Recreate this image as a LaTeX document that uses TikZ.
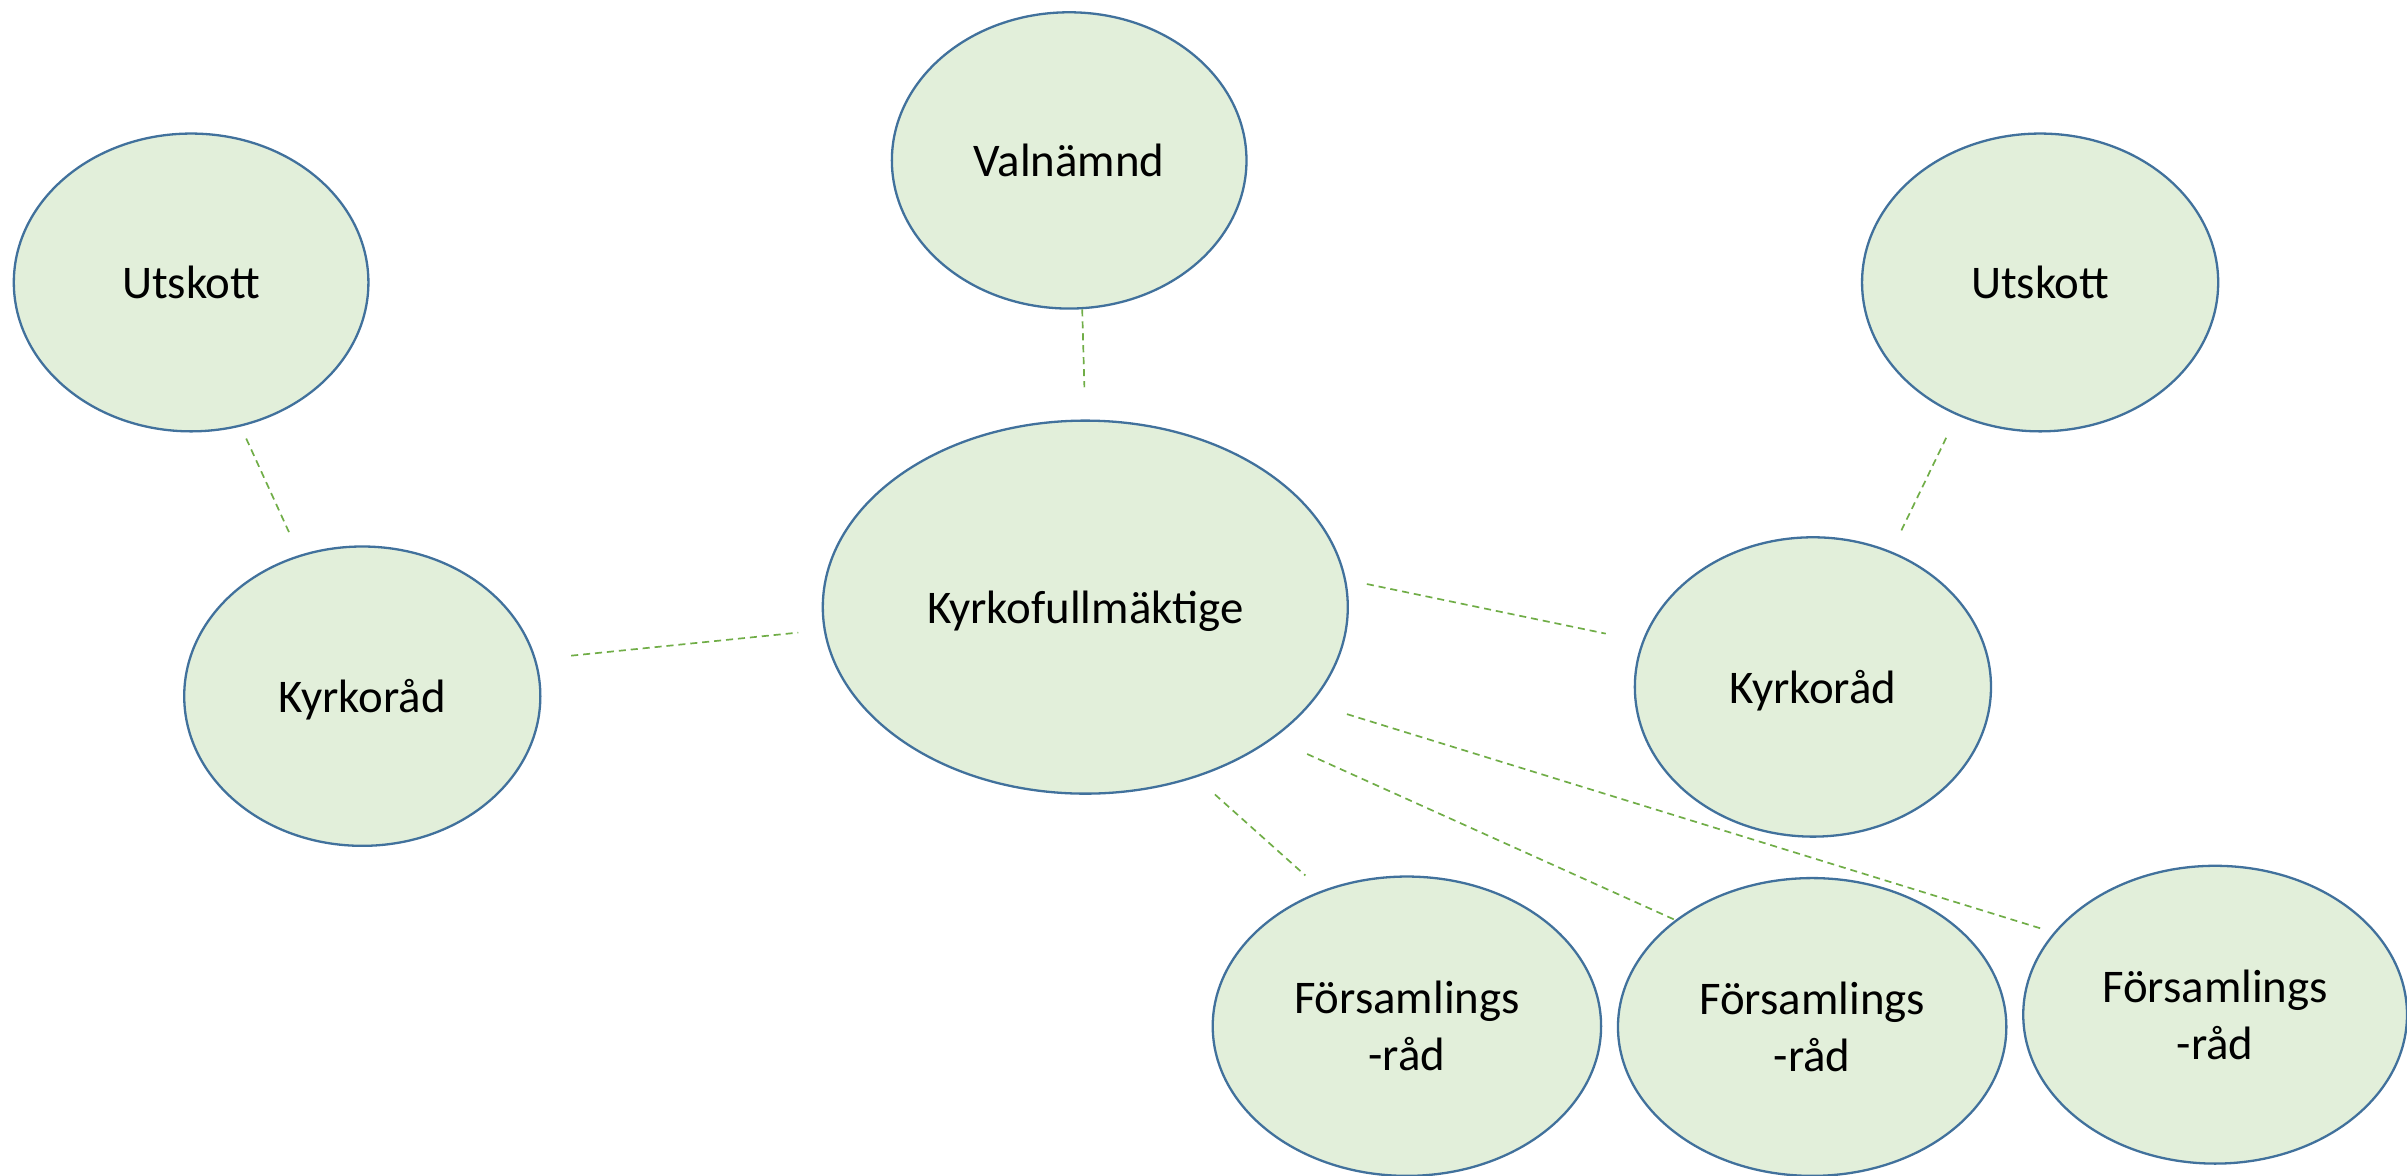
\documentclass[tikz,border=0pt]{standalone}
\usepackage{fontspec}
\setmainfont{Carlito}
\definecolor{bubblefill}{HTML}{E2EFDA}
\definecolor{bubbleline}{HTML}{41719C}
\definecolor{linkgreen}{HTML}{70AD47}
\tikzset{
  bubble/.style={ellipse,draw=bubbleline,fill=bubblefill,line width=.75pt,
    align=center,inner sep=0pt,font=\fontsize{15.25}{18.5}\selectfont},
  flat/.style={text depth=0pt},
  link/.style={draw=linkgreen,line width=.55pt,dash pattern=on 2.3pt off 1.6pt}
}
\usetikzlibrary{shapes.geometric}
\begin{document}
\begin{tikzpicture}[x=.5pt,y=-.5pt]
    \useasboundingbox (0,0) rectangle (1568,766);
    % bubbles
    \node[bubble,minimum width=115.5pt,minimum height=96.5pt] (val) at (696.5,104.5) {Valnämnd};
    \node[bubble,minimum width=115.5pt,minimum height=97pt] (utskottL) at (124.5,184) {Utskott};
    \node[bubble,minimum width=116pt,minimum height=97pt] (utskottR) at (1329,184) {Utskott};
    \node[bubble,flat,minimum width=171pt,minimum height=121.5pt] (kf) at (707,395.5) {Kyrkofullmäktige};
    \node[bubble,flat,minimum width=116pt,minimum height=97.5pt] (kradL) at (236,453.5) {Kyrkoråd};
    \node[bubble,flat,minimum width=116pt,minimum height=97.5pt] (kradR) at (1181,447.5) {Kyrkoråd};
    \node[bubble,minimum width=126.5pt,minimum height=97.5pt] (frad1) at (916.5,668.5) {Församlings\\-råd};
    \node[bubble,minimum width=126.5pt,minimum height=97pt] (frad2) at (1180.5,669) {Församlings\\-råd};
    \node[bubble,minimum width=125pt,minimum height=97pt] (frad3) at (1443,661) {Församlings\\-råd};
    % links
    \draw[link,shorten >=10.5pt] (val.275.6) -- (kf.90.3);
    \draw[link,shorten <=4.3pt,shorten >=7.4pt] (utskottL.289) -- (kradL.114.8);
    \draw[link,shorten <=11.5pt,shorten >=8.3pt] (kradL.12.5) -- (kf.185.4);
    \draw[link,shorten <=6.9pt,shorten >=12.1pt] (kf.6.9) -- (kradR.165.1);
    \draw[link,shorten <=8.1pt,shorten >=6.9pt] (utskottR.238.7) -- (kradR.60.6);
    \draw[link,shorten <=8.3pt,shorten >=7.3pt] (kf.303.1) -- (frad1.122.5);
    \draw[link,shorten <=12.1pt,shorten >=.5pt] (kf.325) -- (frad2.142.6);
    \draw[link,shorten <=12pt,shorten >=3.4pt] (kf.337) -- (frad3.153.8);
  \end{tikzpicture}
\end{document}
